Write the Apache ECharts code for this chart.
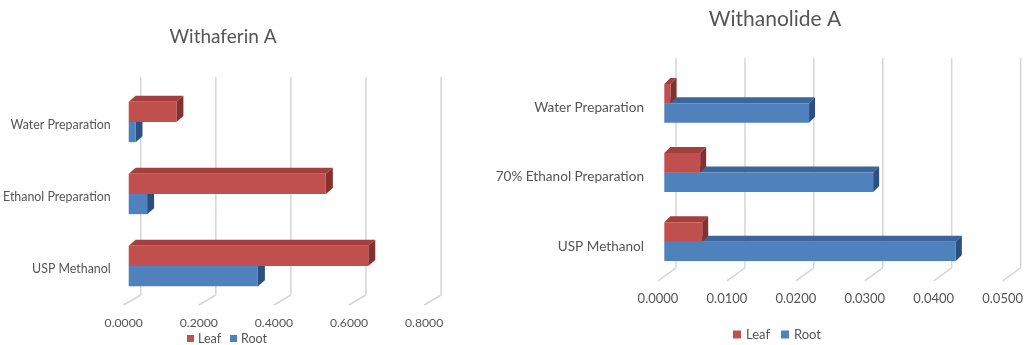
<!DOCTYPE html>
<html>
<head>
<meta charset="utf-8">
<script src="https://cdn.jsdelivr.net/npm/echarts@6/dist/echarts.min.js"></script>
<style>
  html, body { margin: 0; padding: 0; background: #fff; }
  #chart { width: 1026px; height: 345px; }
</style>
</head>
<body>
<div id="chart"></div>
<script>
// Extraction categories, listed top to bottom
const categoriesA = ['Water Preparation', 'Ethanol Preparation', 'USP Methanol'];
const categoriesB = ['Water Preparation', '70% Ethanol Preparation', 'USP Methanol'];

// Withaferin A content
const withaferinLeaf = [0.127, 0.525, 0.638];
const withaferinRoot = [0.018, 0.049, 0.344];

// Withanolide A content
const withanolideLeaf = [0.0009, 0.0052, 0.0055];
const withanolideRoot = [0.0210, 0.0303, 0.0423];

// Value axis ticks
const withaferinTicks = [0, 0.2, 0.4, 0.6, 0.8];
const withanolideTicks = [0, 0.01, 0.02, 0.03, 0.04, 0.05];

const TEXT = '#555555';
const FONT = 'Lato, "Open Sans", sans-serif';
const BAR_SHARE = 0.28;   // share of a category band taken by one bar

const LEAF = { front: '#C0504D', top: '#A53F3C', side: '#86302E' };
const ROOT = { front: '#4F81BD', top: '#3B669C', side: '#2B4F80' };

// Pseudo-3D geometry per panel: bar plane offset, bar depth, back wall offset
const panels = [
  { grid: { left: 123.3, top: 89, width: 300.8, height: 216 },
    face: [5, -3], depth: [7, -6], wall: [17, -10], tickFont: 12.2, catFont: 12.4 },
  { grid: { left: 658, top: 73.2, width: 348, height: 207.6 },
    face: [6.3, -4.5], depth: [6, -6], wall: [18, -13], tickFont: 13, catFont: 13.6 }
];

function wallRenderer(panel) {
  return function (params, api) {
    const x = api.coord([api.value(0), 0])[0];
    const cs = params.coordSys;
    const bottom = cs.y + cs.height;
    const wx = panel.wall[0], wy = panel.wall[1];
    const style = { stroke: '#D6D6D6', lineWidth: 1.5, fill: null };
    return {
      type: 'group',
      children: [
        { type: 'line', shape: { x1: x + wx, y1: bottom + wy, x2: x + wx, y2: cs.y + wy - 2 }, style: style },
        { type: 'line', shape: { x1: x, y1: bottom, x2: x + wx, y2: bottom + wy }, style: style }
      ]
    };
  };
}

function barRenderer(panel, upper, shades) {
  return function (params, api) {
    const v = api.value(0), ci = api.value(1);
    const a = api.coord([0, ci]);
    const b = api.coord([v, ci]);
    const h = api.size([0, 1])[1] * BAR_SHARE;
    const yTop = a[1] + panel.face[1] - (upper ? h : 0);
    const yBot = yTop + h;
    const x0 = a[0] + panel.face[0], x1 = b[0] + panel.face[0];
    const dx = panel.depth[0], dy = panel.depth[1];
    return {
      type: 'group',
      children: [
        { type: 'polygon', shape: { points: [[x0, yTop], [x1, yTop], [x1 + dx, yTop + dy], [x0 + dx, yTop + dy]] },
          style: { fill: shades.top } },
        { type: 'polygon', shape: { points: [[x1, yTop], [x1 + dx, yTop + dy], [x1 + dx, yBot + dy], [x1, yBot]] },
          style: { fill: shades.side } },
        { type: 'rect', shape: { x: x0, y: yTop, width: x1 - x0, height: h },
          style: { fill: shades.front } }
      ]
    };
  };
}

function pairs(values) {
  return values.map(function (v, i) { return [v, i]; });
}

function xAxisFor(i, max, interval, margin) {
  return {
    gridIndex: i, type: 'value', min: 0, max: max, interval: interval,
    axisLine: { show: false }, axisTick: { show: false }, splitLine: { show: false },
    axisLabel: { margin: margin, color: TEXT, fontFamily: FONT, fontSize: panels[i].tickFont,
                 formatter: function (v) { return v.toFixed(4); } }
  };
}

function yAxisFor(i, cats, margin) {
  return {
    gridIndex: i, type: 'category', inverse: true, data: cats,
    axisLine: { show: false }, axisTick: { show: false }, splitLine: { show: false },
    axisLabel: { margin: margin, color: TEXT, fontFamily: FONT, fontSize: panels[i].catFont }
  };
}

function panelSeries(i, ticks, leaf, root) {
  const p = panels[i];
  return [
    { type: 'custom', xAxisIndex: i, yAxisIndex: i, silent: true, z: 1,
      renderItem: wallRenderer(p), data: ticks.map(function (t) { return [t, 0]; }) },
    { type: 'custom', name: 'Root', xAxisIndex: i, yAxisIndex: i, z: 2,
      itemStyle: { color: ROOT.front }, renderItem: barRenderer(p, false, ROOT), data: pairs(root) },
    { type: 'custom', name: 'Leaf', xAxisIndex: i, yAxisIndex: i, z: 3,
      itemStyle: { color: LEAF.front }, renderItem: barRenderer(p, true, LEAF), data: pairs(leaf) }
  ];
}

const chart = echarts.init(document.getElementById('chart'), null, { renderer: 'canvas' });
chart.setOption({
  animation: false,
  backgroundColor: '#fff',
  title: [
    { text: 'Withaferin A', left: 223, top: 27, textAlign: 'center', padding: 0,
      textStyle: { color: TEXT, fontFamily: FONT, fontSize: 19, fontWeight: 'normal' } },
    { text: 'Withanolide A', left: 775, top: 9, textAlign: 'center', padding: 0,
      textStyle: { color: TEXT, fontFamily: FONT, fontSize: 21, fontWeight: 'normal' } }
  ],
  legend: [
    { data: ['Leaf', 'Root'], left: 187, top: 332, padding: 0, icon: 'rect',
      itemWidth: 7, itemHeight: 7, itemGap: 9,
      textStyle: { color: TEXT, fontFamily: FONT, fontSize: 12.5, padding: [0, 0, 0, -1] } },
    { data: ['Leaf', 'Root'], left: 733, top: 328, padding: 0, icon: 'rect',
      itemWidth: 8, itemHeight: 8, itemGap: 11,
      textStyle: { color: TEXT, fontFamily: FONT, fontSize: 13 } }
  ],
  grid: panels.map(function (p) { return Object.assign({ containLabel: false }, p.grid); }),
  xAxis: [xAxisFor(0, 0.8, 0.2, 12), xAxisFor(1, 0.05, 0.01, 12)],
  yAxis: [yAxisFor(0, categoriesA, 13), yAxisFor(1, categoriesB, 14)],
  series: panelSeries(0, withaferinTicks, withaferinLeaf, withaferinRoot)
    .concat(panelSeries(1, withanolideTicks, withanolideLeaf, withanolideRoot))
});
</script>
</body>
</html>
